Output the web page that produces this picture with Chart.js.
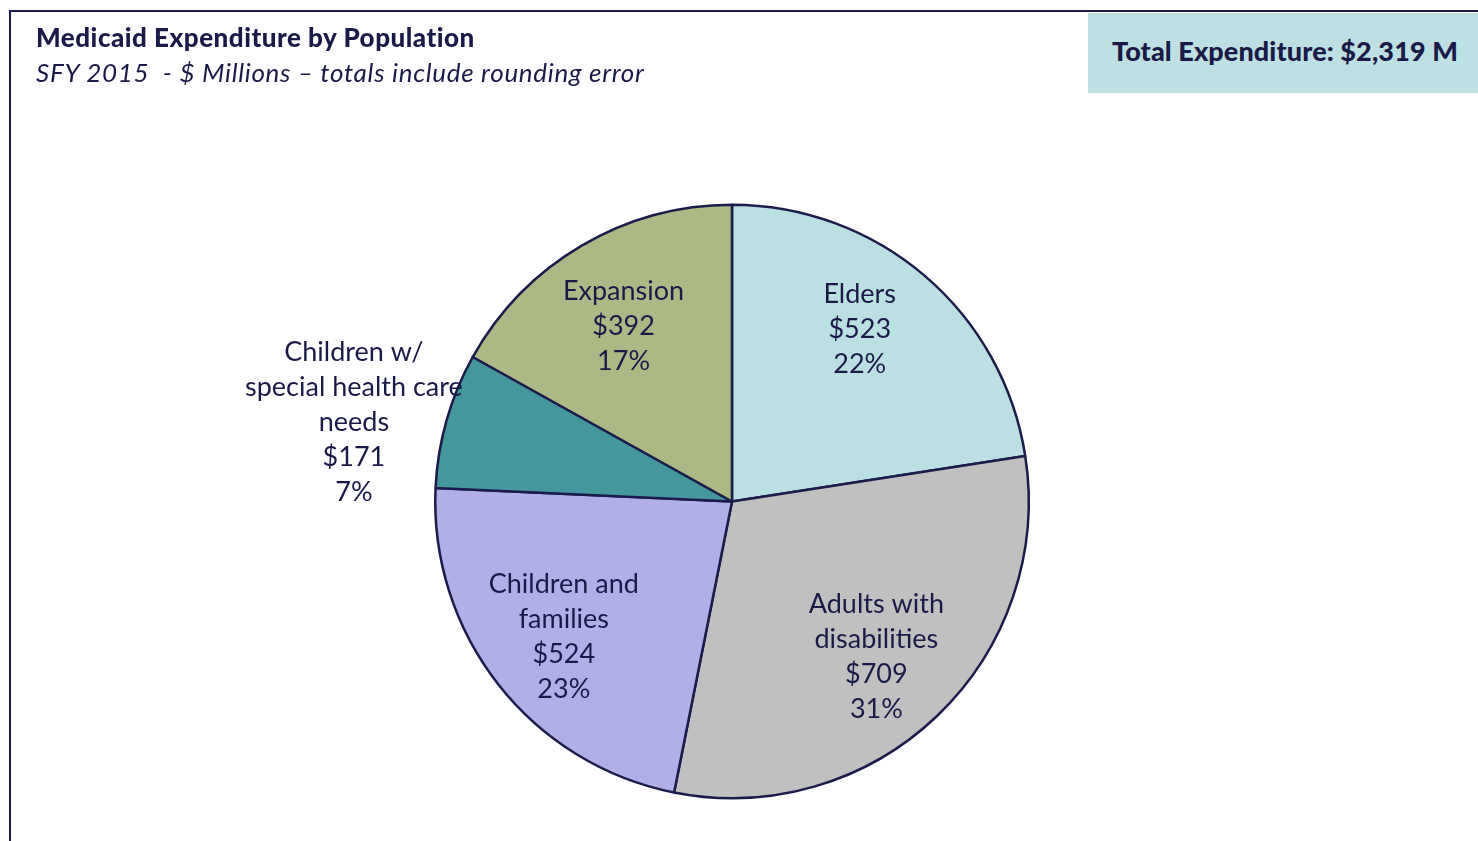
<!DOCTYPE html>
<html>
<head>
<meta charset="utf-8">
<script src="https://cdn.jsdelivr.net/npm/chart.js@4.4.1/dist/chart.umd.min.js"></script>
<style>
  html, body { margin: 0; padding: 0; background: #fff; }
  #wrap { position: relative; width: 1478px; height: 841px; overflow: hidden; }
  #c { position: absolute; left: 0; top: 0; }
  .frameL { position: absolute; left: 9px; top: 10px; width: 2px; height: 831px; background: #1c1c4c; }
  .frameT { position: absolute; left: 9px; top: 10px; width: 1469px; height: 2px; background: #1c1c4c; }
  .title { position: absolute; left: 36px; top: 21px; font-family: Lato, sans-serif; font-weight: 900; font-size: 26px; letter-spacing: 0.5px; color: #1a1a48; white-space: nowrap; }
  .sub { position: absolute; left: 36px; top: 56px; font-family: Lato, sans-serif; font-style: italic; font-size: 26px; letter-spacing: 0.7px; color: #1a1a48; white-space: nowrap; }
  .box { position: absolute; left: 1088px; top: 13px; width: 390px; height: 80px; background: #bce0e4; }
  .boxt { position: absolute; left: 1112px; top: 34px; font-family: Lato, sans-serif; font-weight: 900; font-size: 27px; letter-spacing: 0.1px; color: #1a1a48; white-space: nowrap; }
</style>
</head>
<body>
<div id="wrap">
  <canvas id="c" width="1478" height="841"></canvas>
  <div class="frameL"></div>
  <div class="frameT"></div>
  <div class="title">Medicaid Expenditure by Population</div>
  <div class="sub">SFY 2015&nbsp; - $ Millions – totals include rounding error</div>
  <div class="box"></div>
  <div class="boxt">Total Expenditure: $2,319 M</div>
</div>
<script>
const categories = ["Elders", "Adults with disabilities", "Children and families", "Children w/ special health care needs", "Expansion"];
const labelLines = [
  ["Elders"],
  ["Adults with", "disabilities"],
  ["Children and", "families"],
  ["Children w/", "special health care", "needs"],
  ["Expansion"]
];
const values = [523, 709, 524, 171, 392];
const percents = ["22%", "31%", "23%", "7%", "17%"];
const colors = ["#bae0e3", "#c0c0c0", "#b0b0e6", "#45979e", "#adb985"];
const labelRadiusFactor = [0.722, 0.715, 0.728, 1.302, 0.695];
const labelAngleOffsetDeg = [-4, 0.9, -0.8, -4, -1.3];

const sliceLabels = {
  id: 'sliceLabels',
  afterDatasetsDraw(chart) {
    const ctx = chart.ctx;
    const meta = chart.getDatasetMeta(0);
    ctx.save();
    ctx.font = '27px Lato, sans-serif';
    ctx.fillStyle = '#1a1a48';
    ctx.textAlign = 'center';
    ctx.textBaseline = 'middle';
    meta.data.forEach((arc, i) => {
      const p = arc.getProps(['x', 'y', 'startAngle', 'endAngle', 'outerRadius'], true);
      const mid = (p.startAngle + p.endAngle) / 2 + labelAngleOffsetDeg[i] * Math.PI / 180;
      const r = p.outerRadius * labelRadiusFactor[i];
      const cx = p.x + Math.cos(mid) * r;
      const cy = p.y + Math.sin(mid) * r;
      const lines = labelLines[i].concat(["$" + values[i], percents[i]]);
      const lh = 35;
      const y0 = cy - (lines.length - 1) * lh / 2;
      lines.forEach((t, k) => ctx.fillText(t, cx, y0 + k * lh));
    });
    ctx.restore();
  }
};

new Chart(document.getElementById('c'), {
  type: 'pie',
  data: {
    labels: categories,
    datasets: [{
      data: values,
      backgroundColor: colors,
      borderColor: '#1c1c4c',
      borderWidth: 2.5
    }]
  },
  options: {
    responsive: false,
    animation: false,
    layout: { padding: { top: 203, bottom: 41, left: 434, right: 448 } },
    plugins: { legend: { display: false }, tooltip: { enabled: false } }
  },
  plugins: [sliceLabels]
});
</script>
</body>
</html>
